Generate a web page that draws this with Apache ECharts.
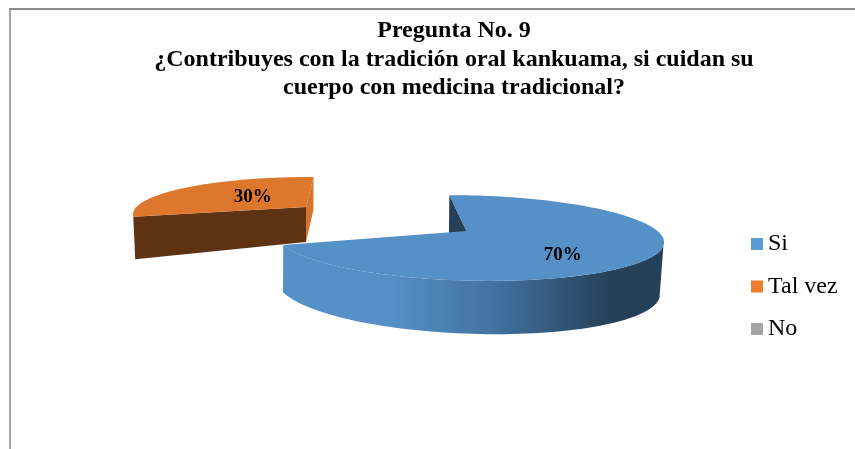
<!DOCTYPE html>
<html>
<head>
<meta charset="utf-8">
<style>html,body{margin:0;padding:0;background:#fff}#c{width:855px;height:449px}</style>
<script src="https://cdn.jsdelivr.net/npm/echarts@6/dist/echarts.min.js"></script>
</head>
<body>
<div id="c"></div>
<script>
const categories = ['Si', 'Tal vez', 'No'];
const seriesValues = [70, 30, 0];
const titleLines = ['Pregunta No. 9', '¿Contribuyes con la tradición oral kankuama, si cuidan su', 'cuerpo con medicina tradicional?'];
const legendColors = ['#5B9BD5', '#ED7D31', '#A5A5A5'];

// Projection of each (exploded) wedge: a flat disc seen in perspective.
const views = [
  { cx: 466.5, cy: 231, R: 191, ry: 41.5, p: 0.163, q: 0.02, tilt: 4, start: -96, wallFrom: 14, d0: 48, dS: 5, dC: 3, bx0: -2, bxC: -2, tipDepth: 48,
    top: '#5590C7', cut: '#264059',
    side: ['#5590C7', 0, '#5590C7', 0.3, '#41719F', 0.58, '#254059', 0.88, '#243F58', 1],
    labelR: 0.6, labelDx: -3, labelDy: 12 },
  { cx: 306, cy: 207, R: 173, ry: 36, p: 0.2, q: 0.02, tilt: 0, start: 165, d0: 36, dS: 3, dC: -6, bx0: 0, bxC: -2, tipDepth: 35,
    top: '#DD772E', cut: '#5F3213', endCut: '#D6732C',
    side: null, labelR: 0.62, labelDx: 30, labelDy: 4 }
];

function point(v, deg) {
  const t = deg * Math.PI / 180, c = Math.cos(t), s = Math.sin(t);
  const f = 1 / (1 - v.p * s - v.q * c);
  return [v.cx + v.R * c * f, v.cy + (v.ry * s + v.tilt * c) * f];
}
function bottom(v, deg) {
  const t = deg * Math.PI / 180, c = Math.cos(t), s = Math.sin(t), P = point(v, deg);
  return [P[0] + v.bx0 + v.bxC * c, P[1] + v.d0 + v.dS * s + v.dC * c];
}
function arc(fn, v, a, b) {
  const n = Math.max(2, Math.ceil(Math.abs(b - a) / 2)), out = [];
  for (let i = 0; i <= n; i++) out.push(fn(v, a + (b - a) * i / n));
  return out;
}
function renderWedge(params, api) {
  const value = api.value(0), v = views[params.seriesIndex];
  if (!v || !value) return { type: 'group', children: [] };
  const sweep = value / 100 * 360, a = v.start, b = a + sweep;
  const tip = [v.cx, v.cy], tipB = [v.cx, v.cy + v.tipDepth];
  const kids = [];
  const poly = (pts, fill) => kids.push({ type: 'polygon', shape: { points: pts }, style: { fill: fill } });
  if (v.side) {
    // Start cut face seen through the notch, outer wall, then the top.
    const P = point(v, a);
    poly([P, tip, tipB, [P[0] - 0.5, P[1] + v.tipDepth]], v.cut);
    const wall = arc(point, v, v.wallFrom, b).concat(arc(bottom, v, b, v.wallFrom));
    poly(wall, {
      type: 'linear', global: true, x: v.cx - v.R, y: 0, x2: v.cx + v.R, y2: 0,
      colorStops: [0, 2, 4, 6, 8].map(i => ({ color: v.side[i], offset: v.side[i + 1] }))
    });
  } else {
    poly([point(v, b), tip, tipB, bottom(v, b)], v.endCut);
    poly([point(v, a), tip, tipB, bottom(v, a)], v.cut);
  }
  poly([tip].concat(arc(point, v, a, b)), v.top);
  const mid = point({ ...v, R: v.R * v.labelR, ry: v.ry * v.labelR, tilt: 0, p: 0, q: 0 }, (a + b) / 2);
  kids.push({
    type: 'text',
    style: {
      text: value + '%', x: mid[0] + v.labelDx, y: mid[1] + v.labelDy, align: 'center', verticalAlign: 'middle',
      font: 'bold 19px "Liberation Serif"', fill: '#000'
    }
  });
  return { type: 'group', children: kids };
}

const chart = echarts.init(document.getElementById('c'), null, { renderer: 'canvas' });
chart.setOption({
  animation: false,
  backgroundColor: '#fff',
  title: {
    text: titleLines.join('\n'),
    left: 449, top: 12, textAlign: 'center',
    textStyle: { fontFamily: 'Liberation Serif', fontWeight: 'bold', fontSize: 24, lineHeight: 28.5, color: '#000' }
  },
  legend: {
    data: categories, orient: 'vertical', left: 746, top: 226, icon: 'rect',
    itemWidth: 12, itemHeight: 12, itemGap: 16.5,
    selectedMode: false,
    textStyle: { fontFamily: 'Liberation Serif', fontSize: 24, color: '#000', lineHeight: 26 }
  },
  graphic: [
    { type: 'line', shape: { x1: 10, y1: 8, x2: 10, y2: 449 }, style: { stroke: '#A6A6A6', lineWidth: 2 } },
    { type: 'line', shape: { x1: 9, y1: 9, x2: 855, y2: 9 }, style: { stroke: '#8C8C8C', lineWidth: 2 } }
  ],
  series: categories.map((name, i) => ({
    name: name, type: 'custom', coordinateSystem: 'none', silent: true,
    z: i === 0 ? 3 : 2,
    itemStyle: { color: legendColors[i] },
    renderItem: renderWedge,
    data: [[seriesValues[i]]]
  }))
});
</script>
</body>
</html>
